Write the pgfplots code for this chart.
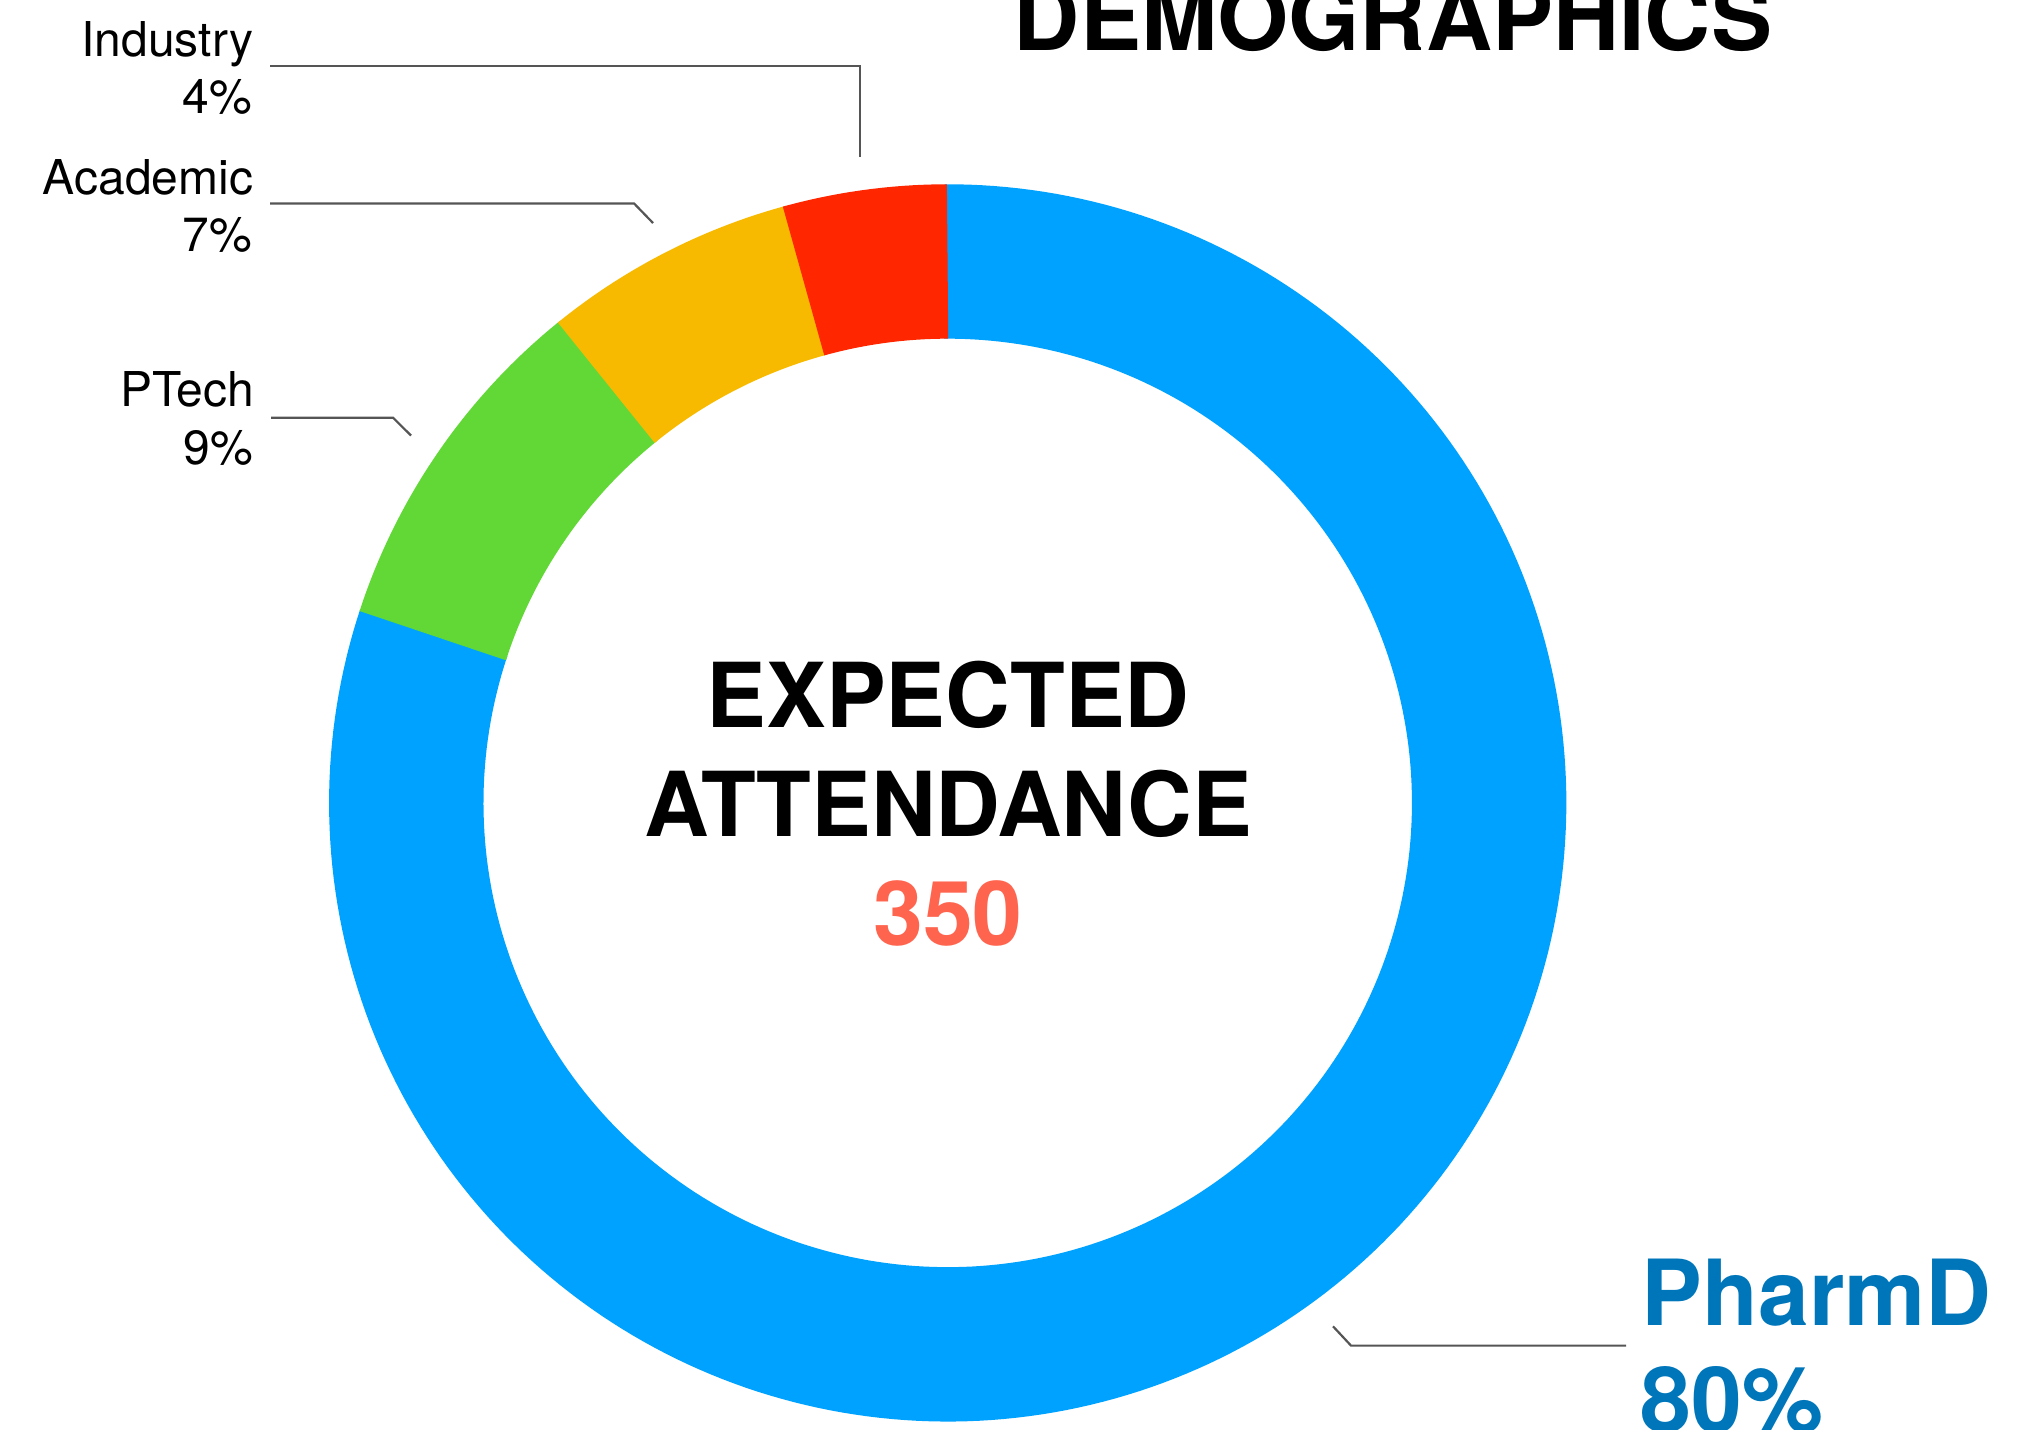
\documentclass[border=0pt]{standalone}
\usepackage{pgfplots}
\usepackage{pgfplotstable}
\pgfplotsset{compat=1.18}
\usepackage{fontspec}
\setmainfont{TeX Gyre Heros}
\definecolor{cBlue}{HTML}{00A2FF}
\definecolor{cGreen}{HTML}{61D836}
\definecolor{cYellow}{HTML}{F8BA00}
\definecolor{cRed}{HTML}{FF2600}
\definecolor{cText}{HTML}{0076BA}
\definecolor{cSalmon}{HTML}{FF644E}
\definecolor{cLine}{HTML}{555555}

\pgfplotstableread{
name value
PharmD 280
PTech 32
Academic 23
Industry 15
}\demotable
\pgfplotstablegetelem{0}{value}\of\demotable \pgfmathsetmacro\vA{\pgfplotsretval}
\pgfplotstablegetelem{1}{value}\of\demotable \pgfmathsetmacro\vB{\pgfplotsretval}
\pgfplotstablegetelem{2}{value}\of\demotable \pgfmathsetmacro\vC{\pgfplotsretval}
\pgfplotstablegetelem{3}{value}\of\demotable \pgfmathsetmacro\vD{\pgfplotsretval}
\pgfmathsetmacro\tot{\vA+\vB+\vC+\vD}
\pgfmathsetmacro\aA{90-360*(\vA/\tot)}
\pgfmathsetmacro\aB{\aA-360*(\vB/\tot)}
\pgfmathsetmacro\aC{\aB-360*(\vC/\tot)}
\pgfmathsetmacro\aD{\aC-360*(\vD/\tot)}
% small overlaps so that no seam shows between segments
\pgfmathsetmacro\oA{\aA-0.35}
\pgfmathsetmacro\oB{\aB-0.35}
\pgfmathsetmacro\oC{\aC-0.35}
\def\cx{947.7}
\def\cy{626.1}
\def\Rm{541.45}

\begin{document}%
\begin{tikzpicture}
\useasboundingbox (0,0) rectangle (504.75pt,357.25pt);
\clip (0,0) rectangle (504.75pt,357.25pt);
\begin{axis}[
  at={(0,0)}, anchor=south west,
  x=0.25pt, y=0.25pt,
  xmin=0, xmax=2019, ymin=0, ymax=1429,
  hide axis, clip=false,
  every axis plot/.append style={no markers},
]
% donut segments
\addplot[draw=cBlue, line width=38.6pt, domain=\oA:90.35, samples=250] ({\cx+\Rm*cos(x)},{\cy+\Rm*sin(x)});
\addplot[draw=cGreen, line width=38.6pt, domain=\oB:\aA, samples=60] ({\cx+\Rm*cos(x)},{\cy+\Rm*sin(x)});
\addplot[draw=cYellow, line width=38.6pt, domain=\oC:\aB, samples=50] ({\cx+\Rm*cos(x)},{\cy+\Rm*sin(x)});
\addplot[draw=cRed, line width=38.6pt, domain=\aD:\aC, samples=40] ({\cx+\Rm*cos(x)},{\cy+\Rm*sin(x)});
% leader lines
\addplot[draw=cLine, line width=0.55pt] coordinates {(270,1363.3) (860,1363.3) (860,1272)};
\addplot[draw=cLine, line width=0.55pt] coordinates {(270,1225.6) (634,1225.6) (653,1206)};
\addplot[draw=cLine, line width=0.55pt] coordinates {(271,1011.3) (393,1011.3) (411,993.5)};
\addplot[draw=cLine, line width=0.55pt] coordinates {(1626,83.4) (1351,83.4) (1333,102.7)};
% labels
\begin{scope}[every node/.style={inner sep=0pt, font=\fontsize{12}{14}\selectfont}]
\node[anchor=base east] at (axis cs:254,1373) {Industry};
\node[anchor=base east] at (axis cs:253,1316) {4\%};
\node[anchor=base east] at (axis cs:254,1235) {Academic};
\node[anchor=base east] at (axis cs:253,1178) {7\%};
\node[anchor=base east] at (axis cs:255,1023) {PTech};
\node[anchor=base east] at (axis cs:254,965) {9\%};
\end{scope}
\begin{scope}[every node/.style={inner sep=0pt, font=\fontsize{22.4}{27}\selectfont\bfseries}]
\node[anchor=base, font=\fontsize{22.9}{27}\selectfont\bfseries] at (axis cs:1393,1379) {DEMOGRAPHICS};
\node[anchor=base] at (axis cs:948,702) {EXPECTED};
\node[anchor=base] at (axis cs:948,593) {ATTENDANCE};
\node[anchor=base, text=cSalmon] at (axis cs:948,484) {350};
\node[anchor=base west, text=cText, font=\fontsize{22.8}{27}\selectfont\bfseries] at (axis cs:1641,104) {PharmD};
\node[anchor=base west, text=cText, font=\fontsize{22.8}{27}\selectfont\bfseries] at (axis cs:1640,-3) {80\%};
\end{scope}
\end{axis}
\end{tikzpicture}%
\end{document}
